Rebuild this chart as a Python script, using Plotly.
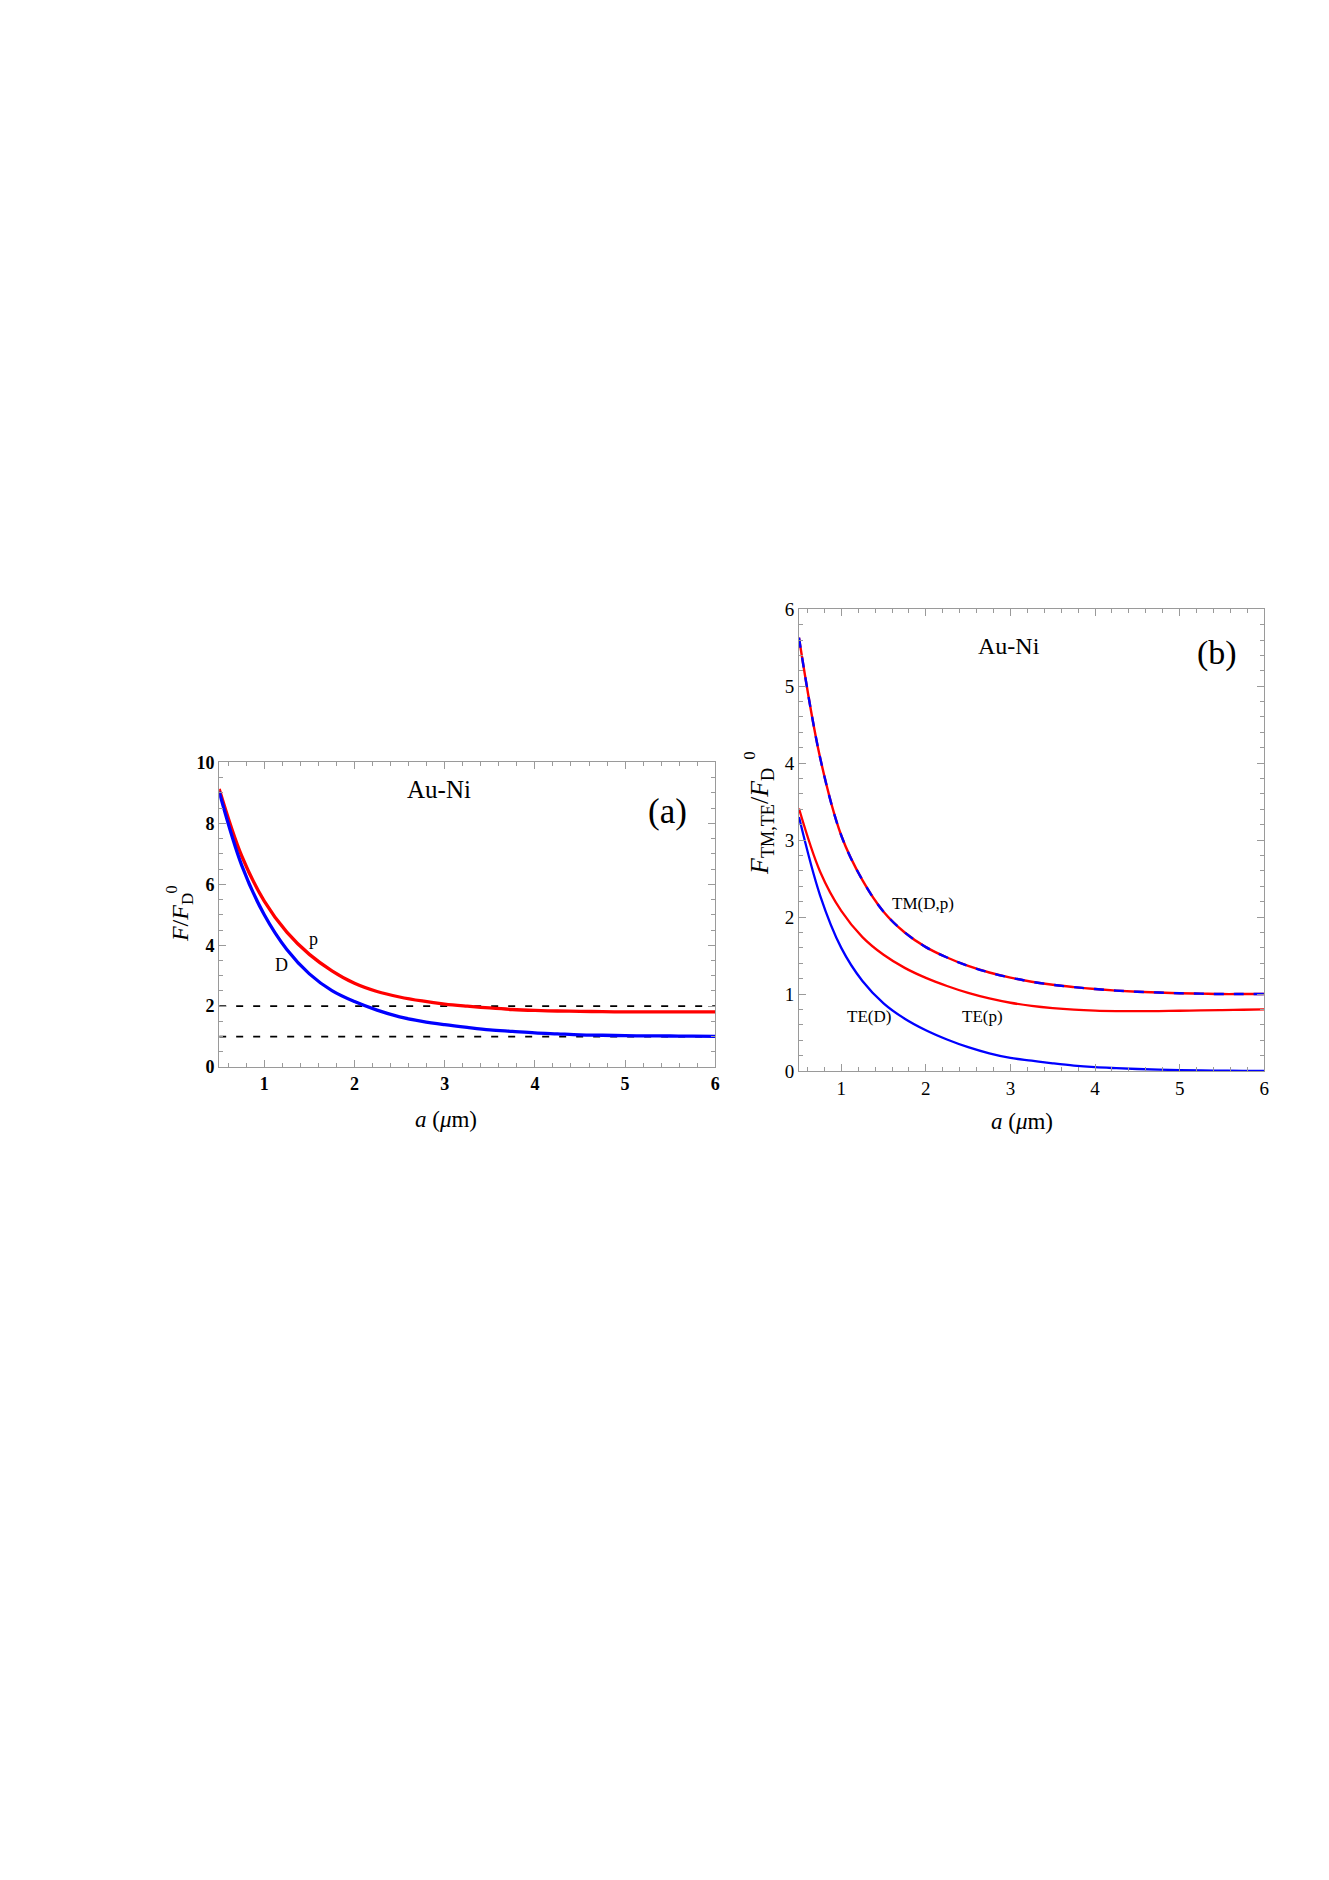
import plotly.graph_objects as go

W, H = 1329, 1880

# separation a (um), common grid for every curve
a_grid = [0.5, 0.75, 1.0, 1.25, 1.5, 1.75, 2.0, 2.25, 2.5, 2.75, 3.0, 3.25,
          3.5, 3.75, 4.0, 4.25, 4.5, 4.75, 5.0, 5.25, 5.5, 5.75, 6.0]

# ---- panel (a): total force ratio ----
f_p = [9.13, 6.93, 5.45, 4.43, 3.70, 3.16, 2.75, 2.48, 2.30, 2.17, 2.07, 2.00,
       1.94, 1.89, 1.86, 1.84, 1.83, 1.82, 1.81, 1.81, 1.81, 1.81, 1.81]
f_D = [9.04, 6.62, 5.00, 3.86, 3.06, 2.51, 2.15, 1.87, 1.65, 1.50, 1.39, 1.30,
       1.22, 1.17, 1.12, 1.09, 1.06, 1.045, 1.03, 1.025, 1.02, 1.015, 1.01]
ref_levels = [1, 2]

# ---- panel (b): TM / TE contributions ----
tm_Dp = [5.63, 4.07, 3.06, 2.48, 2.07, 1.80, 1.61, 1.475, 1.365, 1.28, 1.213, 1.16,
         1.12, 1.09, 1.065, 1.045, 1.03, 1.02, 1.01, 1.005, 1.0, 1.0, 1.0]
te_p = [3.41, 2.59, 2.08, 1.74, 1.51, 1.34, 1.21, 1.105, 1.015, 0.943, 0.887, 0.846,
        0.817, 0.797, 0.785, 0.779, 0.777, 0.779, 0.783, 0.788, 0.792, 0.796, 0.80]
te_D = [3.30, 2.28, 1.60, 1.17, 0.88, 0.68, 0.53, 0.41, 0.31, 0.23, 0.17, 0.135,
        0.10, 0.07, 0.05, 0.037, 0.026, 0.018, 0.012, 0.008, 0.005, 0.002, 0.0]

RED = "rgb(255,0,0)"
BLUE = "rgb(0,0,255)"
FRAME = "#9a9a9a"
SERIF = "Liberation Serif, Times New Roman, serif"


def px(x):
    return x / W


def py(y):
    return 1 - y / H


fig = go.Figure()

# panel (a)
for lv in ref_levels:
    fig.add_trace(go.Scatter(x=[a_grid[0], a_grid[-1]], y=[lv, lv], mode="lines",
                             line=dict(color="black", width=1.8, dash="7px,10px"),
                             xaxis="x", yaxis="y", showlegend=False))
fig.add_trace(go.Scatter(x=a_grid, y=f_p, mode="lines", line_shape="spline",
                         line=dict(color=RED, width=3.3), xaxis="x", yaxis="y",
                         showlegend=False))
fig.add_trace(go.Scatter(x=a_grid, y=f_D, mode="lines", line_shape="spline",
                         line=dict(color=BLUE, width=3.3), xaxis="x", yaxis="y",
                         showlegend=False))

# panel (b)
fig.add_trace(go.Scatter(x=a_grid, y=te_D, mode="lines", line_shape="spline",
                         line=dict(color=BLUE, width=2.3), xaxis="x2", yaxis="y2",
                         showlegend=False))
fig.add_trace(go.Scatter(x=a_grid, y=te_p, mode="lines", line_shape="spline",
                         line=dict(color=RED, width=2.3), xaxis="x2", yaxis="y2",
                         showlegend=False))
fig.add_trace(go.Scatter(x=a_grid, y=tm_Dp, mode="lines", line_shape="spline",
                         line=dict(color=RED, width=2.4), xaxis="x2", yaxis="y2",
                         showlegend=False))
fig.add_trace(go.Scatter(x=a_grid, y=tm_Dp, mode="lines", line_shape="spline",
                         line=dict(color=BLUE, width=2.4, dash="10px,10px"),
                         xaxis="x2", yaxis="y2", showlegend=False))

frame = dict(showline=True, linecolor=FRAME, linewidth=1, mirror="allticks",
             ticks="inside", ticklen=7, tickcolor=FRAME, tickwidth=1,
             showgrid=False, zeroline=False)


def minor(step):
    return dict(dtick=step, tick0=0, ticks="inside", ticklen=4,
                tickcolor=FRAME, showgrid=False)


fig.update_layout(
    width=W, height=H,
    margin=dict(l=0, r=0, t=0, b=0),
    paper_bgcolor="white", plot_bgcolor="white",
    font=dict(family=SERIF, color="black"),
    xaxis=dict(domain=[px(220), px(718)], range=[0.5, 6], anchor="y",
               tickvals=[1, 2, 3, 4, 5, 6],
               tickfont=dict(size=18, weight="bold"), minor=minor(0.2), **frame),
    yaxis=dict(domain=[py(1069), py(761)], range=[0, 10], anchor="x",
               tickvals=[0, 2, 4, 6, 8, 10],
               tickfont=dict(size=18, weight="bold"), minor=minor(0.5), **frame),
    xaxis2=dict(domain=[px(802), px(1269)], range=[0.5, 6], anchor="y2",
                tickvals=[1, 2, 3, 4, 5, 6], tickfont=dict(size=19),
                minor=minor(0.2), **frame),
    yaxis2=dict(domain=[py(1073), py(606)], range=[0, 6], anchor="x2",
                tickvals=[0, 1, 2, 3, 4, 5, 6], tickfont=dict(size=19),
                minor=minor(0.2), **frame),
)


def note(text, x, y, size, angle=0):
    fig.add_annotation(text=text, x=px(x), y=py(y), xref="paper", yref="paper",
                       showarrow=False, textangle=angle,
                       font=dict(size=size, family=SERIF, color="black"),
                       xanchor="center", yanchor="middle")


# panel (a) texts
note("Au-Ni", 441, 788, 25)
note("(a)", 670, 811, 35)
note("p", 315, 939, 18)
note("D", 283, 966, 18)
note("<i>a</i> (<i>μ</i>m)", 448, 1122, 23)
note("<i>F</i>/<i>F</i><sub>D</sub>", 182, 918, 24, -90)
note("0", 172, 889, 16, -90)

# panel (b) texts
note("Au-Ni", 1013, 643, 24)
note("(b)", 1222, 650, 34)
note("TM(D,p)", 926, 904, 17)
note("TE(D)", 872, 1018, 17)
note("TE(p)", 986, 1018, 17)
note("<i>a</i> (<i>μ</i>m)", 1026, 1124, 23)
note("<i>F</i><sub>TM,TE</sub>/<i>F</i><sub>D</sub>", 764, 821, 26, -90)
note("0", 752, 754, 17, -90)

# drop the default 8px body margin so figure pixels line up with the page
fig.write_html("out.html", config={"displayModeBar": False},
               post_script="document.body.style.margin='0';")
